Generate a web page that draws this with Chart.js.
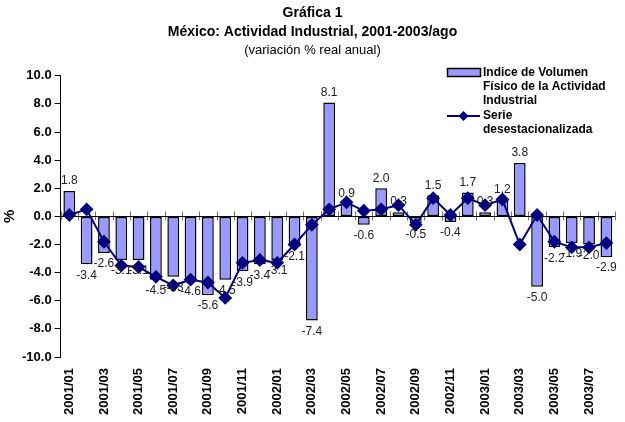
<!DOCTYPE html>
<html>
<head>
<meta charset="utf-8">
<script src="https://cdn.jsdelivr.net/npm/chart.js@4"></script>
<style>
  body { margin: 0; background: #fff; }
  #wrap { width: 625px; height: 422px; }
</style>
</head>
<body>
<div id="wrap"><canvas id="chart"></canvas></div>
<script>
// data
const months = [
  '2001/01', '2001/02', '2001/03', '2001/04', '2001/05', '2001/06', '2001/07', '2001/08',
  '2001/09', '2001/10', '2001/11', '2001/12', '2002/01', '2002/02', '2002/03', '2002/04',
  '2002/05', '2002/06', '2002/07', '2002/08', '2002/09', '2002/10', '2002/11', '2002/12',
  '2003/01', '2003/02', '2003/03', '2003/04', '2003/05', '2003/06', '2003/07', '2003/08'
];
const indiceVolumen = [
  1.8, -3.4, -2.6, -3.1, -3.1, -4.5, -4.3, -4.6,
  -5.6, -4.5, -3.9, -3.4, -3.1, -2.1, -7.4, 8.1,
  0.9, -0.6, 2.0, 0.3, -0.5, 1.5, -0.4, 1.7,
  0.3, 1.2, 3.8, -5.0, -2.2, -1.9, -2.0, -2.9
];
const serieDesest = [
  0.1, 0.5, -1.8, -3.5, -3.6, -4.3, -4.9, -4.5,
  -4.7, -5.8, -3.3, -3.1, -3.3, -2.0, -0.6, 0.5,
  1.0, 0.4, 0.5, 0.8, -0.6, 1.3, 0.1, 1.3,
  0.8, 1.2, -2.0, 0.1, -1.8, -2.2, -2.2, -1.9
];
const yMin = -10, yMax = 10, yStep = 2;

const barFill = '#9999FF';
const lineColor = '#000080';
const fontFamily = 'Arial, "Liberation Sans", sans-serif';

// zero line with small category ticks
const zeroAxis = {
  id: 'zeroAxis',
  beforeDatasetsDraw(chart) {
    const { ctx, chartArea, scales: { x, y } } = chart;
    const y0 = y.getPixelForValue(0);
    const step = x.getPixelForValue(1) - x.getPixelForValue(0);
    ctx.save();
    ctx.strokeStyle = '#777';
    ctx.lineWidth = 1;
    for (let i = 0; i <= months.length; i++) {
      const px = Math.round(x.getPixelForValue(i) - step / 2) + 0.5;
      ctx.beginPath();
      ctx.moveTo(px, y0 - 5);
      ctx.lineTo(px, y0 + 4);
      ctx.stroke();
    }
    ctx.strokeStyle = '#000';
    ctx.beginPath();
    ctx.moveTo(chartArea.left, Math.round(y0) + 0.5);
    ctx.lineTo(chartArea.right, Math.round(y0) + 0.5);
    ctx.stroke();
    ctx.restore();
  }
};

const barLabels = {
  id: 'barLabels',
  afterDatasetsDraw(chart) {
    const { ctx } = chart;
    const meta = chart.getDatasetMeta(0);
    ctx.save();
    ctx.font = '12px ' + fontFamily;
    ctx.fillStyle = '#222';
    ctx.textAlign = 'center';
    meta.data.forEach((el, i) => {
      const v = indiceVolumen[i];
      if (v >= 0) {
        ctx.textBaseline = 'bottom';
        ctx.fillText(v.toFixed(1), el.x, el.y - 4);
      } else {
        ctx.textBaseline = 'top';
        ctx.fillText(v.toFixed(1), el.x, el.y + 5);
      }
    });
    ctx.restore();
  }
};

const boxLegend = {
  id: 'boxLegend',
  afterDraw(chart) {
    const { ctx } = chart;
    const lx = chart.width - 178;
    const tx = lx + 36;
    ctx.save();
    ctx.fillStyle = barFill;
    ctx.fillRect(lx, 68, 33, 8);
    ctx.strokeStyle = '#000';
    ctx.lineWidth = 1.5;
    ctx.strokeRect(lx + 0.5, 68.5, 33, 8);
    ctx.font = 'bold 12px ' + fontFamily;
    ctx.fillStyle = '#000';
    ctx.textBaseline = 'middle';
    ctx.textAlign = 'left';
    ctx.fillText('Indice de Volumen', tx, 73);
    ctx.fillText('Físico de la Actividad', tx, 87);
    ctx.fillText('Industrial', tx, 101);
    ctx.strokeStyle = lineColor;
    ctx.lineWidth = 2;
    ctx.beginPath();
    ctx.moveTo(lx, 116);
    ctx.lineTo(lx + 33, 116);
    ctx.stroke();
    ctx.fillStyle = lineColor;
    ctx.beginPath();
    ctx.moveTo(lx + 16.5, 111);
    ctx.lineTo(lx + 21.5, 116);
    ctx.lineTo(lx + 16.5, 121);
    ctx.lineTo(lx + 11.5, 116);
    ctx.closePath();
    ctx.fill();
    ctx.fillStyle = '#000';
    ctx.fillText('Serie', tx, 116);
    ctx.fillText('desestacionalizada', tx, 130);
    ctx.restore();
  }
};

new Chart(document.getElementById('chart'), {
  data: {
    labels: months,
    datasets: [
      {
        type: 'bar',
        label: 'Indice de Volumen Físico de la Actividad Industrial',
        data: indiceVolumen,
        backgroundColor: barFill,
        borderColor: '#000',
        borderWidth: 1.5,
        borderSkipped: false,
        categoryPercentage: 1,
        barPercentage: 0.68,
        order: 2
      },
      {
        type: 'line',
        label: 'Serie desestacionalizada',
        data: serieDesest,
        borderColor: lineColor,
        backgroundColor: lineColor,
        borderWidth: 2,
        pointStyle: 'rectRot',
        pointRadius: 5.5,
        pointHoverRadius: 5.5,
        fill: false,
        tension: 0,
        clip: false,
        order: 1
      }
    ]
  },
  options: {
    responsive: true,
    maintainAspectRatio: false,
    animation: false,
    layout: { autoPadding: false, padding: { left: 1, right: 1, top: 0, bottom: 4 } },
    plugins: {
      legend: { display: false },
      tooltip: { enabled: false },
      title: {
        display: true,
        text: ['Gráfica 1', 'México: Actividad Industrial, 2001-2003/ago'],
        color: '#000',
        font: { family: fontFamily, size: 14, weight: 'bold', lineHeight: 1.4 },
        padding: { top: 3, bottom: 0 }
      },
      subtitle: {
        display: true,
        text: '(variación % real anual)',
        color: '#000',
        font: { family: fontFamily, size: 13, lineHeight: 1.2 },
        padding: { top: 0, bottom: 18 }
      }
    },
    scales: {
      x: {
        grid: { display: false },
        border: { display: false },
        ticks: {
          autoSkip: false,
          maxRotation: 90,
          minRotation: 90,
          color: '#000',
          font: { family: fontFamily, size: 13, weight: 'bold' },
          callback: (v, i) => (i % 2 === 0 ? months[i] : '')
        }
      },
      y: {
        min: yMin,
        max: yMax,
        grid: { drawOnChartArea: false, color: '#000', tickLength: 6 },
        border: { color: '#000' },
        ticks: {
          stepSize: yStep,
          color: '#000',
          padding: 3,
          font: { family: fontFamily, size: 13, weight: 'bold' },
          callback: v => v.toFixed(1)
        },
        title: {
          display: true,
          text: '%',
          color: '#000',
          font: { family: fontFamily, size: 15, weight: 'bold' },
          padding: 0
        }
      }
    }
  },
  plugins: [zeroAxis, barLabels, boxLegend]
});
</script>
</body>
</html>
